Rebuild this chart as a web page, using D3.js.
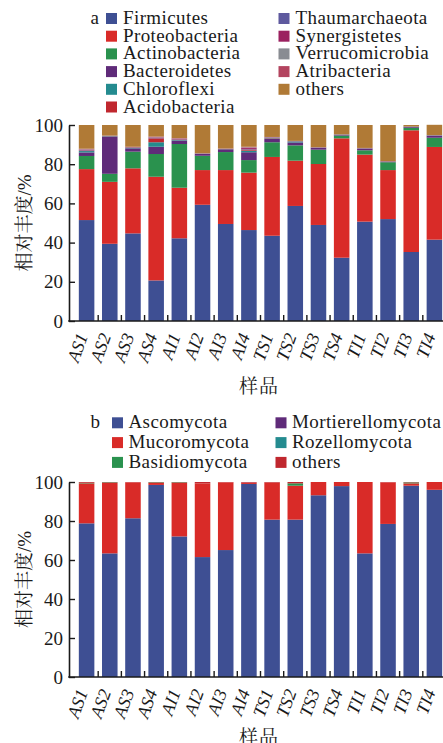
<!DOCTYPE html>
<html>
<head>
<meta charset="utf-8">
<script src="https://cdn.jsdelivr.net/npm/d3@7"></script>
<style>
  body { margin: 0; background: #fff; }
  svg text { font-family: "Liberation Serif", "Times New Roman", "DejaVu Serif", serif; fill: #1a1a1a; }
  svg text.cjk { font-family: "Liberation Serif", "Noto Serif CJK SC", "Noto Sans CJK SC", serif; }
</style>
</head>
<body>
<div id="chart"></div>
<script>
// samples (x categories)
const samples = ["AS1","AS2","AS3","AS4","AI1","AI2","AI3","AI4","TS1","TS2","TS3","TS4","TI1","TI2","TI3","TI4"];
const yTicks = [0, 20, 40, 60, 80, 100];

// panel a: bacterial phyla, % relative abundance
const phylaA = ["Firmicutes","Proteobacteria","Actinobacteria","Bacteroidetes","Chloroflexi","Acidobacteria",
                "Thaumarchaeota","Synergistetes","Verrucomicrobia","Atribacteria","others"];
const firmicutes      = [51.5,39.4,44.7,20.7,42.2,59.3,49.5,46.4,43.5,58.7,49.0,32.3,50.7,52.0,35.2,41.5];
const proteobacteria  = [26.0,31.6,33.2,52.9,25.8,17.7,27.5,29.3,40.2,23.1,31.1,60.9,34.2,25.0,62.1,47.3];
const actinobacteria  = [6.7,4.1,8.5,11.6,22.3,7.3,9.2,6.4,7.5,7.8,7.3,1.4,2.2,4.0,1.3,4.7];
const bacteroidetes   = [1.8,19.0,1.7,3.7,1.7,0.9,1.4,4.0,1.7,1.5,0.9,0.3,0.8,0.3,0.5,0.9];
const chloroflexi     = [0.7,0.2,0.3,2.3,0.3,0.1,0.1,0.8,0.3,0.5,0.1,0.2,0.1,0.1,0.1,0.2];
const acidobacteria   = [0.3,0.1,0.2,2.0,0.3,0.1,0.1,0.6,0.2,0.1,0.1,0.1,0.1,0.1,0.0,0.1];
const thaumarchaeota  = [0.2,0.1,0.1,0.3,0.2,0.1,0.1,0.3,0.2,0.1,0.1,0.0,0.1,0.0,0.0,0.1];
const synergistetes   = [0.2,0.0,0.1,0.2,0.2,0.0,0.0,0.6,0.1,0.0,0.0,0.0,0.0,0.0,0.0,0.0];
const verrucomicrobia = [0.2,0.0,0.0,0.1,0.1,0.0,0.0,0.2,0.1,0.0,0.0,0.0,0.0,0.0,0.0,0.0];
const atribacteria    = [0.3,0.1,0.1,0.3,0.2,0.1,0.1,0.3,0.1,0.1,0.1,0.1,0.1,0.1,0.0,0.1];
const othersA         = [12.1,5.4,11.1,5.9,6.7,14.4,12.0,11.1,6.1,8.1,11.3,4.7,11.7,18.4,0.8,5.2];
const colorsA = ["#3e4f93","#d92b28","#2a924e","#5f2b79","#248b8f","#c0272e",
                 "#5e599e","#9b2160","#898c92","#b3445f","#b07a36"];

// panel b: fungal phyla
const phylaB = ["Ascomycota","Mucoromycota","Basidiomycota","Mortierellomycota","Rozellomycota","others"];
const ascomycota        = [78.8,63.4,81.4,98.5,72.1,61.5,65.1,99.0,80.7,80.7,93.2,97.9,63.4,78.5,98.1,96.0];
const mucoromycota      = [20.5,36.1,18.4,1.0,27.4,37.8,34.7,0.8,19.0,17.4,6.8,2.1,36.6,21.3,1.2,4.0];
const basidiomycota     = [0.3,0.3,0.0,0.3,0.3,0.0,0.0,0.0,0.0,1.2,0.0,0.0,0.0,0.0,0.5,0.0];
const mortierellomycota = [0.0,0.0,0.0,0.0,0.0,0.0,0.0,0.1,0.0,0.0,0.0,0.0,0.0,0.0,0.0,0.0];
const rozellomycota     = [0.0,0.0,0.0,0.0,0.0,0.0,0.0,0.0,0.0,0.0,0.0,0.0,0.0,0.0,0.0,0.0];
const othersB           = [0.4,0.2,0.2,0.2,0.2,0.7,0.2,0.1,0.3,0.7,0.0,0.0,0.0,0.2,0.2,0.0];
const colorsB = ["#3e4f93","#d92b28","#2a924e","#5f2b79","#248b8f","#c0272e"];

const seriesA = [firmicutes,proteobacteria,actinobacteria,bacteroidetes,chloroflexi,acidobacteria,
                 thaumarchaeota,synergistetes,verrucomicrobia,atribacteria,othersA];
const seriesB = [ascomycota,mucoromycota,basidiomycota,mortierellomycota,rozellomycota,othersB];

const width = 443, height = 743;
const svg = d3.select("#chart").append("svg")
    .attr("width", width)
    .attr("height", height);

function toRows(names, series) {
  return samples.map(function(s, i) {
    let row = { sample: s };
    names.forEach(function(n, j) { row[n] = series[j][i]; });
    return row;
  });
}

function drawPanel(opt) {
  let x = d3.scaleBand().domain(samples).range([75, 446]).paddingInner(0.33).paddingOuter(0.165);
  let y = d3.scaleLinear().domain([0, 100]).range([opt.bottom, opt.top]);
  let color = d3.scaleOrdinal().domain(opt.names).range(opt.colors);

  let stacked = d3.stack().keys(opt.names)(toRows(opt.names, opt.series));

  let g = svg.append("g");

  g.selectAll("g.layer")
    .data(stacked)
    .enter().append("g")
      .attr("class", "layer")
      .attr("fill", function(d) { return color(d.key); })
    .selectAll("rect")
    .data(function(d) { return d; })
    .enter().append("rect")
      .attr("x", function(d) { return x(d.data.sample); })
      .attr("width", x.bandwidth())
      .attr("y", function(d) { return y(d[1]); })
      .attr("height", function(d) { return Math.max(0, y(d[0]) - y(d[1])); });

  // y axis, ticks pointing inward
  let yAxis = g.append("g")
      .attr("transform", "translate(" + opt.axisX + ",0)")
      .call(d3.axisLeft(y).tickValues(yTicks).tickSizeInner(-6).tickSizeOuter(0).tickPadding(6));
  yAxis.select(".domain").attr("stroke", "#1a1a1a").attr("stroke-width", 1.6);
  yAxis.selectAll(".tick line").attr("stroke", "#1a1a1a").attr("stroke-width", 1.4);
  yAxis.selectAll("text").attr("font-size", 19).attr("fill", "#1a1a1a")
      .attr("font-family", null);

  // x axis line + ticks between bars
  let half = (x.step() - x.bandwidth()) / 2;
  g.append("line")
      .attr("x1", opt.axisX - 0.8).attr("x2", width)
      .attr("y1", opt.bottom).attr("y2", opt.bottom)
      .attr("stroke", "#1a1a1a").attr("stroke-width", 1.6);
  g.selectAll("line.xtick")
    .data(samples.slice(1))
    .enter().append("line")
      .attr("class", "xtick")
      .attr("x1", function(d) { return x(d) - half; })
      .attr("x2", function(d) { return x(d) - half; })
      .attr("y1", opt.bottom).attr("y2", opt.bottom - 6)
      .attr("stroke", "#1a1a1a").attr("stroke-width", 1.4);

  g.selectAll("text.xlab")
    .data(samples)
    .enter().append("text")
      .attr("class", "xlab")
      .attr("transform", function(d) {
        return "translate(" + (x(d) + x.bandwidth() / 2 + 1.5) + "," + (opt.bottom + 15) + ") rotate(-70)";
      })
      .attr("text-anchor", "end")
      .attr("font-size", 18)
      .attr("font-style", "italic")
      .text(function(d) { return d; });

  // axis titles
  g.append("text")
      .attr("class", "cjk")
      .attr("transform", "translate(31," + (opt.top + opt.bottom) / 2 + ") rotate(-90)")
      .attr("text-anchor", "middle")
      .attr("font-size", 19)
      .text("相对丰度/%");
  g.append("text")
      .attr("class", "cjk")
      .attr("x", 259)
      .attr("y", opt.bottom + opt.titleDy)
      .attr("text-anchor", "middle")
      .attr("font-size", 19)
      .attr("letter-spacing", 1)
      .text("样品");

  // legend
  let lg = g.append("g");
  lg.append("text")
      .attr("x", opt.legend.letterX).attr("y", opt.legend.y0)
      .attr("font-size", 19)
      .text(opt.letter);
  let items = lg.selectAll("g.item")
    .data(opt.names)
    .enter().append("g")
      .attr("class", "item")
      .attr("transform", function(d, i) {
        let col = i < opt.legend.perCol ? 0 : 1;
        let row = col === 0 ? i : i - opt.legend.perCol;
        return "translate(" + opt.legend.colX[col] + "," + (opt.legend.y0 + row * opt.legend.dy) + ")";
      });
  items.append("rect")
      .attr("x", 0).attr("y", -11)
      .attr("width", 11).attr("height", 11)
      .attr("fill", function(d) { return color(d); });
  items.append("text")
      .attr("x", opt.legend.textOff)
      .attr("font-size", 19)
      .attr("letter-spacing", 0.4)
      .text(function(d) { return d; });
}

drawPanel({
  names: phylaA, series: seriesA, colors: colorsA, letter: "a",
  top: 125, bottom: 321, axisX: 69, titleDy: 72,
  legend: { letterX: 90.5, y0: 24, dy: 17.7, perCol: 6, colX: [106, 278.5], textOff: 17 }
});

drawPanel({
  names: phylaB, series: seriesB, colors: colorsB, letter: "b",
  top: 482, bottom: 677, axisX: 69, titleDy: 67,
  legend: { letterX: 90.5, y0: 428.3, dy: 19.8, perCol: 3, colX: [112, 275.5], textOff: 16.5 }
});
</script>
</body>
</html>
